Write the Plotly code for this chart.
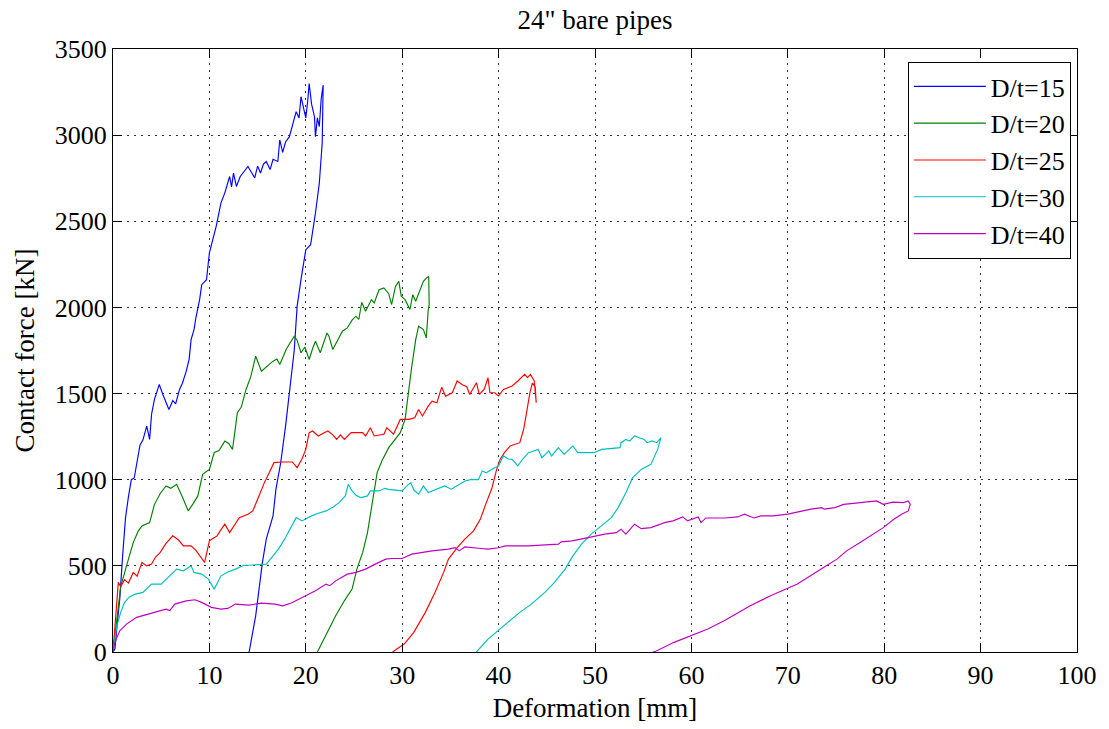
import plotly.graph_objects as go

# ---------------- data ----------------
labels = ["D/t=15", "D/t=20", "D/t=25", "D/t=30", "D/t=40"]
colors = ["#0000FF", "#008000", "#FF0000", "#00BFBF", "#BF00BF"]

x15 = [0, 0.2, 0.5, 0.7, 1.0, 1.3, 1.6, 1.9, 2.2, 2.45, 2.8, 3.1, 3.5, 3.8, 4.0, 4.3, 4.8, 5.2, 5.5, 5.8,
       6.2, 6.5, 6.9, 7.2, 7.6, 7.9, 8.1, 8.4, 8.6, 9.0, 9.2, 9.7, 10.0, 10.4, 10.7, 11.2, 11.6, 12.1, 12.3,
       12.5, 12.8, 13.2, 13.6, 14.0, 14.4, 14.7, 15.0, 15.3, 15.6, 15.9, 16.3, 16.6, 17.1, 17.3, 17.6, 17.9,
       18.3, 18.6, 19.0, 19.3, 19.5, 19.8, 20.0, 20.2, 20.35, 20.6, 20.9, 21.0, 21.2, 21.4, 21.6, 21.8,
       21.7, 21.4, 21.0, 20.5, 20.0, 19.5, 19.1, 18.8, 18.5, 17.9, 17.4, 16.9, 16.6, 15.9, 15.5, 14.8, 14.15, 14.1]
y15 = [0, 17, 200, 307, 560, 780, 900, 1000, 1010, 1100, 1200, 1230, 1311, 1234, 1380, 1466, 1553, 1490, 1450, 1408,
       1460, 1440, 1524, 1560, 1630, 1700, 1813, 1870, 1940, 2050, 2132, 2161, 2317, 2400, 2470, 2607, 2665, 2760, 2700,
       2780, 2702, 2760, 2790, 2818, 2780, 2752, 2820, 2780, 2830, 2847, 2800, 2860, 2847, 2972, 2900, 2960,
       2991, 3060, 3136, 3100, 3223, 3150, 3100, 3200, 3300, 3180, 3107, 2991, 3100, 3050, 3213, 3290,
       2953, 2721, 2547, 2364, 2335, 2161, 2006, 1750, 1601, 1311, 1100, 944, 790, 655, 520, 210, 8, 0]

x20 = [0, 0.2, 0.4, 0.8, 1.4, 2.1, 2.6, 3.0, 3.8, 4.3, 4.9, 5.5, 6.0, 6.6, 7.2, 7.8, 8.3, 8.8, 9.3, 10.0, 10.5,
       11.0, 11.6, 12.0, 12.4, 12.9, 13.3, 13.8, 14.3, 14.8, 15.4, 16.0, 16.6, 17.0, 17.3, 18.0, 18.8, 19.1, 19.5,
       19.9, 20.35, 20.7, 21.0, 21.5, 21.9, 22.2, 22.4, 22.8, 23.3, 23.8, 24.3, 24.8, 25.2, 25.5, 25.8, 26.2, 26.8,
       27.1, 27.6, 28.1, 28.6, 28.9, 29.3, 29.65, 29.9, 30.3, 30.8, 31.1, 31.4, 31.8, 32.2, 32.5, 32.75, 32.8,
       32.7, 32.5, 32.2, 31.7, 31.4, 30.95, 30.6, 30.3, 29.8, 29.3, 28.6, 27.9, 27.4, 26.9, 26.4, 25.9, 25.3, 24.8,
       24.0, 23.1, 22.4, 21.4, 21.2]
y20 = [0, 100, 210, 380, 500, 635, 700, 732, 751, 857, 920, 964, 950, 973, 900, 819, 860, 906, 1031, 1060, 1158,
       1170, 1224, 1210, 1176, 1389, 1420, 1524, 1600, 1717, 1630, 1660, 1688, 1700, 1669, 1760, 1833, 1810, 1737,
       1770, 1698, 1760, 1804, 1737, 1800, 1852, 1833, 1756, 1810, 1862, 1881, 1926, 1949, 1930, 2030, 1978, 2045,
       2026, 2103, 2113, 2080, 2016, 2122, 2151, 2065, 2045, 1988, 2074, 2036, 2094, 2151, 2170, 2180, 2016,
       1988, 1823, 1871, 1891, 1813, 1640, 1486, 1350, 1273, 1234, 1186, 1110, 1041, 867, 693, 578, 481, 365,
       297, 210, 133, 17, 0]

x25 = [0, 0.3, 0.55, 0.8, 1.2, 1.6, 2.1, 2.5, 3.0, 3.5, 4.0, 4.4, 4.9, 5.5, 6.2, 6.8, 7.3, 8.1, 8.6, 9.5, 10.0,
       10.4, 10.8, 11.2, 11.6, 12.1, 12.6, 13.1, 14.0, 14.5, 15.1, 15.7, 16.2, 16.7, 17.6, 18.6, 19.1, 19.6, 20.0,
       20.35, 20.7, 21.3, 21.8, 22.3, 22.8, 23.2, 23.6, 24.0, 24.7, 25.9, 26.2, 26.7, 27.1, 28.1, 28.4, 29.1, 29.8,
       30.7, 31.3, 31.7, 32.1, 32.7, 33.1, 33.6, 34.1, 34.5, 35.2, 35.7, 36.2, 36.7, 37.0, 37.7, 38.0, 38.5, 38.9,
       39.1, 39.6, 40.0, 40.5, 41.4, 42.0, 42.7, 43.0, 43.3, 43.7, 43.9, 43.8, 43.5,
       43.25, 42.9, 42.6, 42.2, 41.2, 40.6, 40.15, 39.8, 39.3, 38.6, 38.1, 37.4, 36.5, 35.7, 34.8, 34.3, 33.4,
       32.4, 31.2, 30.2, 29.1, 29.0]
y25 = [0, 250, 404, 380, 420, 400, 462, 440, 520, 500, 510, 550, 578, 630, 674, 650, 616, 616, 590, 520, 645,
       660, 674, 710, 742, 693, 740, 780, 800, 819, 900, 983, 1040, 1099, 1103, 1103, 1070, 1120, 1176,
       1273, 1283, 1254, 1270, 1283, 1260, 1234, 1260, 1234, 1273, 1273, 1254, 1302, 1254, 1264, 1302, 1264, 1350,
       1350, 1360, 1408, 1370, 1427, 1456, 1447, 1537, 1485, 1505, 1573, 1553, 1540, 1495, 1563, 1495, 1524, 1592,
       1505, 1505, 1486, 1524, 1544, 1573, 1611, 1592, 1611, 1573, 1447, 1540, 1560,
       1505, 1389, 1293, 1215, 1196, 1157, 1118, 1060, 950, 848, 770, 703, 655, 606, 539, 462, 346,
       230, 114, 46, 8, 0]

x30 = [0, 0.2, 0.4, 0.8, 1.2, 1.7, 2.3, 3.1, 3.5, 4.0, 5.0, 5.9, 6.6, 7.3, 8.1, 8.4, 9.2, 9.9, 10.5, 11.2, 11.8,
       12.7, 13.5, 14.5, 15.9, 16.6, 17.2, 17.8, 18.4, 19.0, 19.6, 20.6, 21.3, 22.1, 22.8, 23.45, 24.1, 24.4, 24.8,
       25.2, 25.7, 26.4, 26.7, 27.6, 28.2, 28.6, 30.0, 30.4, 30.9, 31.2, 31.7, 32.2, 32.7, 33.5, 34.4, 35.1, 35.8,
       36.5, 37.2, 37.9, 38.3, 38.7, 39.6, 40.0, 40.5, 41.0, 41.4, 42.0, 42.5, 43.1, 44.1, 44.5, 45.2, 45.5, 46.2,
       46.8, 47.7, 48.2, 48.9, 49.9, 50.7, 51.6, 52.6, 52.7, 53.2, 53.6, 54.1, 54.6, 55.1, 55.4, 55.9, 56.4, 56.85,
       56.5, 55.8, 54.8, 53.9, 53.2, 52.4, 51.7, 50.65, 49.6, 48.6, 47.7, 46.9, 45.8, 44.8, 43.4, 42.2, 41.0,
       40.15, 38.9, 37.7]
y30 = [0, 80, 152, 230, 288, 320, 336, 346, 370, 394, 394, 442, 481, 471, 500, 462, 452, 423, 365, 442, 462,
       481, 502, 505, 510, 558, 600, 655, 720, 780, 761, 790, 805, 819, 840, 867, 906, 973, 935,
       910, 896, 906, 935, 935, 950, 944, 935, 960, 983, 940, 916, 964, 926, 945, 964, 945, 970,
       993, 1002, 1000, 1051, 1040, 1070, 1080, 1138, 1120, 1118, 1080, 1120, 1157, 1176, 1128, 1167, 1138, 1186,
       1147, 1196, 1157, 1157, 1157, 1176, 1180, 1186, 1215, 1234, 1225, 1254, 1244, 1234, 1215, 1225, 1215, 1244,
       1176, 1089, 1060, 1012, 925, 838, 780, 732, 684, 626, 558, 481, 404, 346, 278, 230, 172,
       133, 75, 0]

x40 = [0, 0.2, 0.7, 1.4, 2.45, 3.5, 4.3, 5.5, 5.9, 6.4, 7.6, 8.5, 9.2, 10.2, 11.2, 11.9, 12.7, 14.1, 15.4, 16.8,
       17.6, 18.5, 19.3, 19.96, 21.0, 22.1, 22.5, 23.1, 24.3, 25.2, 26.2, 27.2, 28.3, 28.9, 30.0, 31.0, 33.1, 34.8,
       35.5, 35.9, 36.5, 38.2, 38.9, 40.0, 40.7, 43.1, 44.8, 46.2, 46.5, 47.6, 49.3, 51.0, 52.2, 52.7, 53.2, 54.1,
       54.8, 55.8, 56.8, 57.2, 58.1, 59.1, 59.6, 60.7, 61.0, 61.5, 63.5, 64.8, 65.5, 66.5, 67.2, 68.5, 70.0, 71.4,
       72.4, 73.5, 73.8, 74.9, 75.8, 76.8, 77.5, 79.2, 79.9, 80.9, 82.0, 82.5, 82.7, 82.5,
       81.8, 81.0, 79.9, 78.9, 77.5, 76.1, 75.1, 73.7, 72.3, 71.0, 70.0, 68.2, 66.1, 63.4, 61.7, 59.95, 58.2,
       56.2, 56.0]
y40 = [0, 56, 123, 162, 201, 220, 230, 249, 240, 278, 297, 303, 288, 259, 249, 253, 278, 272, 284, 278,
       268, 284, 307, 326, 355, 394, 385, 413, 452, 462, 481, 510, 539, 543, 543, 568, 587, 597,
       606, 587, 610, 601, 597, 605, 616, 616, 620, 626, 639, 645, 664, 684, 693, 713, 684, 742,
       716, 722, 742, 751, 761, 784, 761, 784, 751, 778, 778, 784, 800, 778, 790, 790, 800, 819,
       829, 838, 829, 838, 857, 863, 867, 877, 857, 870, 867, 877, 857, 819,
       800, 770, 722, 684, 635, 587, 539, 490, 440, 395, 370, 326, 268, 181, 133, 95, 56,
       2, 0]

xs = [x15, x20, x25, x30, x40]
ys = [y15, y20, y25, y30, y40]

x_ticks = [0, 10, 20, 30, 40, 50, 60, 70, 80, 90, 100]
y_ticks = [0, 500, 1000, 1500, 2000, 2500, 3000, 3500]

FONT = "Liberation Serif"

fig = go.Figure()
for xv, yv, name, c in zip(xs, ys, labels, colors):
    fig.add_trace(go.Scatter(x=xv, y=yv, mode="lines", name=name,
                             line=dict(color=c, width=1.15)))

axis_common = dict(
    showline=True, linecolor="black", linewidth=1, mirror="allticks",
    ticks="inside", ticklen=9, tickcolor="black", tickwidth=1,
    showgrid=True, gridcolor="#333333", gridwidth=1, griddash="2px,5px",
    zeroline=False, tickfont=dict(family=FONT, size=26, color="black"),
)

fig.update_layout(
    width=1109, height=729,
    paper_bgcolor="white", plot_bgcolor="white",
    margin=dict(l=113, r=28, t=49, b=76),
    title=dict(text="24\" bare pipes", x=0.5, xref="paper", xanchor="center",
               y=1 - 20 / 729, yref="container", yanchor="middle",
               font=dict(family=FONT, size=27, color="black")),
    xaxis=dict(range=[0, 100], tickvals=x_ticks, ticktext=[str(v) for v in x_ticks],
               title=dict(text="Deformation [mm]", font=dict(family=FONT, size=27, color="black"), standoff=8),
               **axis_common),
    yaxis=dict(range=[0, 3500], tickvals=y_ticks, ticktext=[str(v) for v in y_ticks],
               title=dict(text="Contact force [kN]", font=dict(family=FONT, size=27, color="black"), standoff=12),
               **axis_common),
    legend=dict(x=0.9936, xanchor="right", y=0.9785, yanchor="top",
                bgcolor="white", bordercolor="black", borderwidth=1,
                font=dict(family=FONT, size=26, color="black"), itemwidth=72,
                tracegroupgap=0),
    showlegend=True,
)

fig.write_html("out.html")
